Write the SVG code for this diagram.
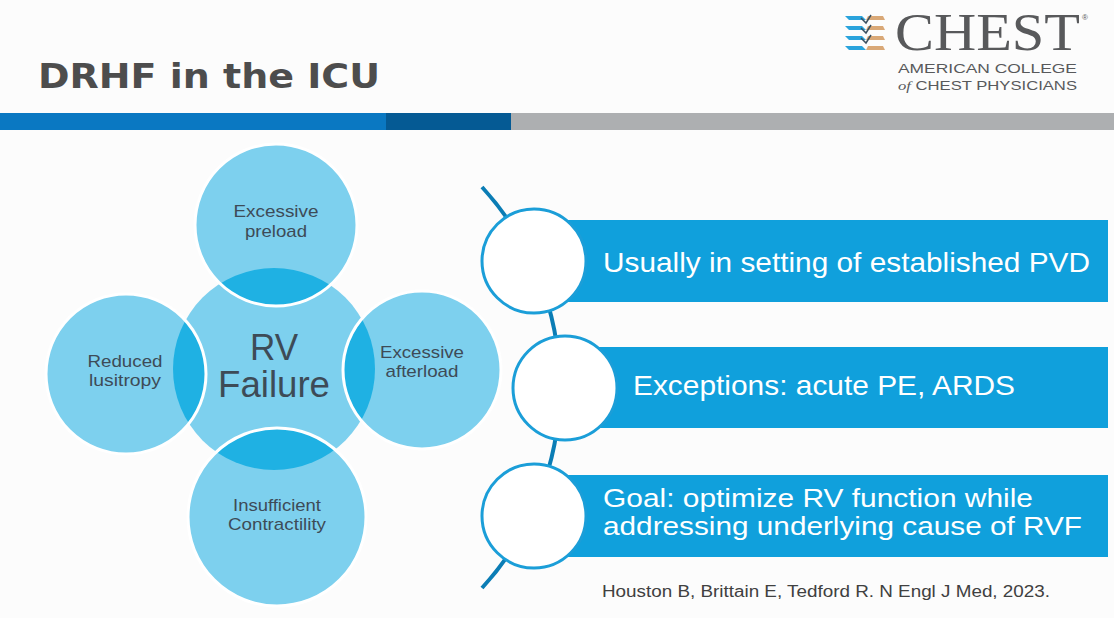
<svg xmlns="http://www.w3.org/2000/svg" width="1114" height="618" viewBox="0 0 1114 618">
<defs>
<style>
.sm{font-family:"Liberation Sans",Arial,sans-serif;font-size:17px;fill:#3D4B57;text-anchor:middle}
.big{font-family:"Liberation Sans",Arial,sans-serif;font-size:36px;fill:#3D4B57;text-anchor:middle}
.lt{fill:#7DD0EE}
.dk{fill:#1FB1E3}
.ol{fill:none;stroke:#FFFFFF;stroke-width:3}
.bar{fill:#10A0DC}
.bt{font-family:"Liberation Sans",Arial,sans-serif;font-size:28px;fill:#FFFFFF}
.dot{fill:#FFFFFF;stroke:#1B9ED8;stroke-width:3}
.logo{font-family:"Liberation Sans",Arial,sans-serif;font-size:13px;fill:#58595B}
</style>
<clipPath id="cc"><circle cx="274" cy="369" r="101"/></clipPath>
</defs>
<rect width="1114" height="618" fill="#FCFCFC"/>

<g id="header">
<text x="38" y="88" font-family="DejaVu Sans,Verdana,sans-serif" font-weight="bold" font-size="34" fill="#4D4D4D" textLength="342" lengthAdjust="spacingAndGlyphs">DRHF in the ICU</text>
<rect x="0" y="113" width="386" height="17" fill="#0A78C2"/>
<rect x="386" y="113" width="125" height="17" fill="#055A94"/>
<rect x="511" y="113" width="603" height="17" fill="#ADAFB1"/>
</g>

<g id="logo">
<g>
<polygon points="845,16 862,16 866,20 849,20" fill="#2AA3DC"/>
<polygon points="845,26 862,26 866,30 849,30" fill="#2AA3DC"/>
<polygon points="845,36 862,36 866,40 849,40" fill="#2AA3DC"/>
<polygon points="845,46 862,46 866,50 849,50" fill="#2AA3DC"/>
<polygon points="868,16 883,16 885,20 866,20" fill="#D9A877"/>
<polygon points="868,26 883,26 885,30 866,30" fill="#D9A877"/>
<polygon points="868,36 883,36 885,40 866,40" fill="#D9A877"/>
<polygon points="868,46 883,46 885,50 866,50" fill="#D9A877"/>
<path d="M861,18 L866,23 L871,15 M861,28 L866,33 L871,25 M861,38 L866,43 L871,35" fill="none" stroke="#3C5060" stroke-width="1.5"/>
</g>
<text x="895" y="50" font-family="Liberation Serif,Times New Roman,serif" font-size="53" fill="#58595B" textLength="185" lengthAdjust="spacingAndGlyphs">CHEST</text>
<text x="1082" y="20" font-family="Liberation Sans,Arial,sans-serif" font-size="8" fill="#58595B">®</text>
<text class="logo" x="898" y="73" textLength="179" lengthAdjust="spacingAndGlyphs">AMERICAN COLLEGE</text>
<text class="logo" x="898" y="90" textLength="179" lengthAdjust="spacingAndGlyphs"><tspan font-family="Liberation Serif,Times New Roman,serif" font-style="italic">of</tspan> CHEST PHYSICIANS</text>
</g>

<g id="node-rv-failure">
<circle class="lt" cx="274" cy="369" r="101"/>
<text class="big" x="274" y="360" textLength="48" lengthAdjust="spacingAndGlyphs">RV</text>
<text class="big" x="274" y="397" textLength="112" lengthAdjust="spacingAndGlyphs">Failure</text>
</g>

<g id="node-preload">
<circle class="lt" cx="276" cy="225" r="81"/>
<circle class="dk" cx="276" cy="225" r="81" clip-path="url(#cc)"/>
<circle class="ol" cx="276" cy="225" r="81"/>
<text class="sm" x="276" y="217" textLength="85" lengthAdjust="spacingAndGlyphs">Excessive</text>
<text class="sm" x="276" y="237" textLength="62" lengthAdjust="spacingAndGlyphs">preload</text>
</g>

<g id="node-lusitropy">
<circle class="lt" cx="126" cy="374" r="80"/>
<circle class="dk" cx="126" cy="374" r="80" clip-path="url(#cc)"/>
<circle class="ol" cx="126" cy="374" r="80"/>
<text class="sm" x="125" y="367" textLength="75" lengthAdjust="spacingAndGlyphs">Reduced</text>
<text class="sm" x="125" y="386" textLength="72" lengthAdjust="spacingAndGlyphs">lusitropy</text>
</g>

<g id="node-afterload">
<circle class="lt" cx="422" cy="370" r="79"/>
<circle class="dk" cx="422" cy="370" r="79" clip-path="url(#cc)"/>
<circle class="ol" cx="422" cy="370" r="79"/>
<text class="sm" x="422" y="358" textLength="84" lengthAdjust="spacingAndGlyphs">Excessive</text>
<text class="sm" x="422" y="377" textLength="73" lengthAdjust="spacingAndGlyphs">afterload</text>
</g>

<g id="node-contractility">
<circle class="lt" cx="277" cy="517" r="89"/>
<circle class="dk" cx="277" cy="517" r="89" clip-path="url(#cc)"/>
<circle class="ol" cx="277" cy="517" r="89"/>
<text class="sm" x="277" y="511" textLength="88" lengthAdjust="spacingAndGlyphs">Insufficient</text>
<text class="sm" x="277" y="530" textLength="98" lengthAdjust="spacingAndGlyphs">Contractility</text>
</g>

<g id="connectors">
<path d="M482,187 A297,297 0 0 1 482,588" fill="none" stroke="#0B7DB5" stroke-width="4"/>
</g>

<g id="node-item1">
<rect class="bar" x="534" y="220" width="574" height="82"/>
<circle class="dot" cx="534" cy="261" r="52"/>
<text class="bt" x="603" y="272" textLength="487" lengthAdjust="spacingAndGlyphs">Usually in setting of established PVD</text>
</g>

<g id="node-item2">
<rect class="bar" x="565" y="347" width="543" height="81"/>
<circle class="dot" cx="565" cy="388" r="52"/>
<text class="bt" x="633" y="395" textLength="382" lengthAdjust="spacingAndGlyphs">Exceptions: acute PE, ARDS</text>
</g>

<g id="node-item3">
<rect class="bar" x="534" y="475" width="574" height="82"/>
<circle class="dot" cx="534" cy="516" r="52"/>
<text class="bt" style="font-size:25px" x="603" y="507" textLength="430" lengthAdjust="spacingAndGlyphs">Goal: optimize RV function while</text>
<text class="bt" style="font-size:25px" x="603" y="535" textLength="479" lengthAdjust="spacingAndGlyphs">addressing underlying cause of RVF</text>
</g>

<g id="citation">
<text x="602" y="597" font-family="Liberation Sans,Arial,sans-serif" font-size="16" fill="#404040" textLength="448" lengthAdjust="spacingAndGlyphs">Houston B, Brittain E, Tedford R. N Engl J Med, 2023.</text>
</g>
</svg>
